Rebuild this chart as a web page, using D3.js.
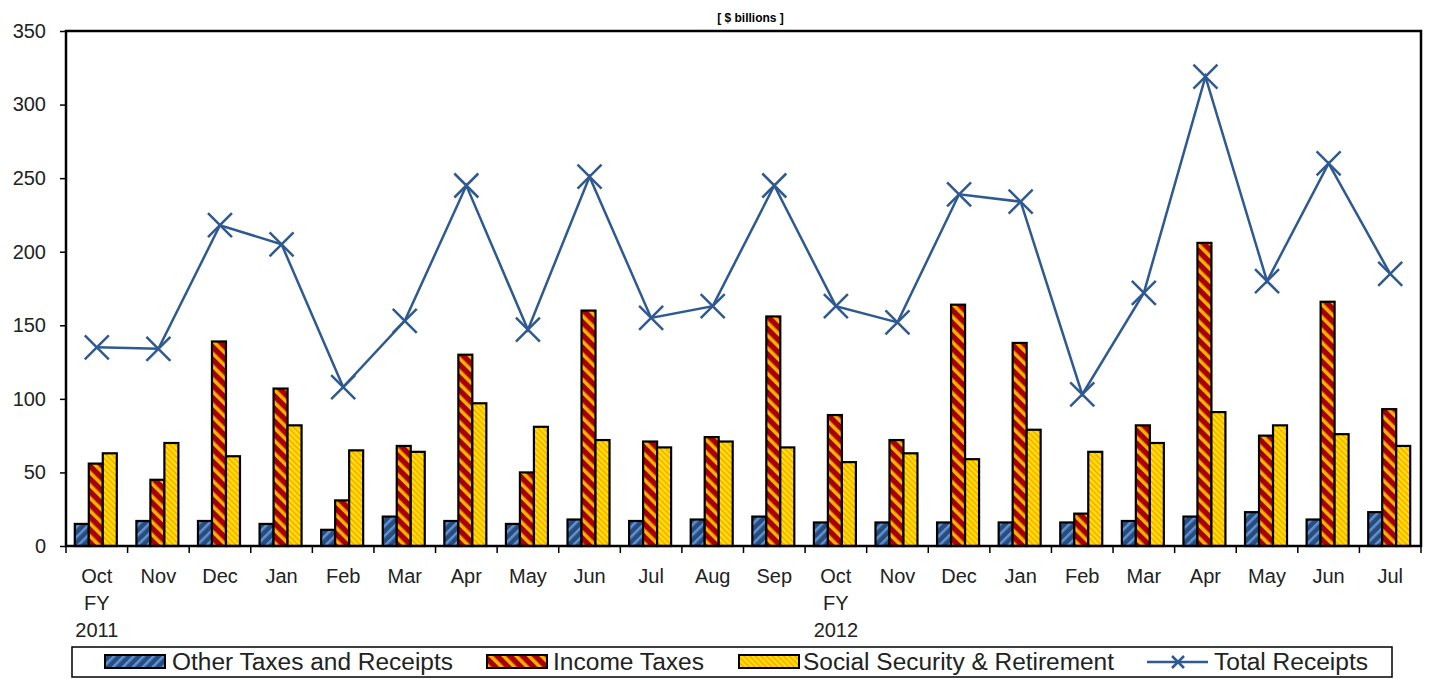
<!DOCTYPE html>
<html>
<head>
<meta charset="utf-8">
<script src="https://cdn.jsdelivr.net/npm/d3@7"></script>
<style>
  body { margin: 0; background: #fff; }
  text { font-family: "Liberation Sans", Arial, sans-serif; fill: #222; }
</style>
</head>
<body>
<div id="main-container"></div>
<script>
// DATA
const months = ["Oct","Nov","Dec","Jan","Feb","Mar","Apr","May","Jun","Jul","Aug","Sep",
                "Oct","Nov","Dec","Jan","Feb","Mar","Apr","May","Jun","Jul"];
const fyLabels = {0: ["FY", "2011"], 12: ["FY", "2012"]};
const otherTaxes = [15,17,17,15,11,20,17,15,18,17,18,20,16,16,16,16,16,17,20,23,18,23];
const incomeTaxes = [56,45,139,107,31,68,130,50,160,71,74,156,89,72,164,138,22,82,206,75,166,93];
const socialSecurity = [63,70,61,82,65,64,97,81,72,67,71,67,57,63,59,79,64,70,91,82,76,68];
const totalReceipts = [135,134,218,205,108,153,245,147,251,155,163,245,163,152,239,234,103,172,319,180,260,185];
const yTicks = [0,50,100,150,200,250,300,350];
const seriesNames = ["Other Taxes and Receipts","Income Taxes","Social Security & Retirement","Total Receipts"];

// CONSTANTS
const W = 1429, H = 679;
const margin = {top: 31, right: 8, bottom: 133, left: 66};
const width = W - margin.left - margin.right,
      height = H - margin.top - margin.bottom;
const lineColour = "#2E5A91";

const svg = d3.select("#main-container")
    .append("svg")
        .attr("width", W)
        .attr("height", H);

// hatch patterns
const defs = svg.append("defs");
function hatch(id, base, stripe, size, sw, dir) {
    const p = defs.append("pattern")
        .attr("id", id)
        .attr("patternUnits", "userSpaceOnUse")
        .attr("width", size).attr("height", size)
        .attr("patternTransform", `rotate(${dir})`);
    p.append("rect").attr("width", size).attr("height", size).attr("fill", base);
    p.append("rect").attr("x", 0).attr("width", sw).attr("height", size).attr("fill", stripe);
}
hatch("pat-other", "#2A4C7C", "#5E93D6", 7, 2.5, 45);
hatch("pat-income", "#A80000", "#FFB300", 9, 3.5, -45);
hatch("pat-ss", "#FFE500", "#FFA000", 4, 1.5, -45);
const fills = ["url(#pat-other)", "url(#pat-income)", "url(#pat-ss)"];

const g = svg.append("g")
    .attr("transform", `translate(${margin.left}, ${margin.top})`);

const idx = months.map((d, i) => i);
const x = d3.scaleBand().domain(idx).range([0, width]).padding(0);
const y = d3.scaleLinear().domain([0, 350]).range([height, 0]);
const barW = 14;
const sub = d3.scaleBand().domain([0,1,2]).range([0, barW * 3]);
const groupOff = (x.bandwidth() - barW * 3) / 2 - 1;

// title
svg.append("text")
    .attr("x", margin.left + width / 2 + 7)
    .attr("y", 22)
    .attr("text-anchor", "middle")
    .style("font-size", "12px")
    .style("font-weight", "bold")
    .style("fill", "#000")
    .text("[ $ billions ]");

// y axis
const yAxis = g.append("g")
    .call(d3.axisLeft(y).tickValues(yTicks).tickSize(6).tickPadding(14));
yAxis.select(".domain").remove();
yAxis.selectAll("line").attr("stroke", "#000").attr("stroke-width", 1.5);
yAxis.selectAll("text").style("font-size", "20px").style("fill", "#222");

// x axis ticks at band boundaries
const boundaries = idx.concat([months.length]);
g.selectAll(".xtick")
    .data(boundaries)
    .enter()
    .append("line")
        .attr("x1", (d) => { return d * x.step(); })
        .attr("x2", (d) => { return d * x.step(); })
        .attr("y1", height)
        .attr("y2", height + 7)
        .attr("stroke", "#000")
        .attr("stroke-width", 1.5);

const xl = g.selectAll(".xlab")
    .data(idx)
    .enter()
    .append("text")
        .attr("text-anchor", "middle")
        .attr("x", (d) => { return x(d) + x.bandwidth() / 2; })
        .attr("y", height + 37)
        .style("font-size", "20px");
xl.append("tspan").text((d) => months[d]);
xl.each(function (d) {
    if (fyLabels[d]) {
        fyLabels[d].forEach((t) => {
            d3.select(this).append("tspan")
                .attr("x", x(d) + x.bandwidth() / 2)
                .attr("dy", 27)
                .text(t);
        });
    }
});

// bars
const series = [otherTaxes, incomeTaxes, socialSecurity];
series.forEach((vals, s) => {
    g.selectAll(".bar" + s)
        .data(vals)
        .enter()
        .append("rect")
            .attr("x", (d, i) => { return x(i) + groupOff + sub(s); })
            .attr("y", (d) => { return y(d); })
            .attr("width", barW)
            .attr("height", (d) => { return height - y(d); })
            .attr("fill", fills[s])
            .attr("stroke", "#000")
            .attr("stroke-width", 2.2);
});

// plot frame
g.append("rect")
    .attr("width", width).attr("height", height)
    .attr("fill", "none")
    .attr("stroke", "#000")
    .attr("stroke-width", 2.5);

// total receipts line
const line = d3.line()
    .x((d, i) => { return x(i) + x.bandwidth() / 2; })
    .y((d) => { return y(d); });
g.append("path")
    .datum(totalReceipts)
    .attr("d", line)
    .attr("fill", "none")
    .attr("stroke", lineColour)
    .attr("stroke-width", 2.5);

const m = 12;
g.selectAll(".mk")
    .data(totalReceipts)
    .enter()
    .append("path")
        .attr("d", (d, i) => {
            const cx = x(i) + x.bandwidth() / 2, cy = y(d);
            return `M${cx - m},${cy - m}L${cx + m},${cy + m}M${cx - m},${cy + m}L${cx + m},${cy - m}`;
        })
        .attr("stroke", lineColour)
        .attr("stroke-width", 2.5)
        .attr("fill", "none");

// legend
const leg = svg.append("g").attr("transform", "translate(72, 647)");
leg.append("rect")
    .attr("width", 1320).attr("height", 30)
    .attr("fill", "#fff").attr("stroke", "#000").attr("stroke-width", 1.5);
const swX = [33, 415, 667, 1106];
const textX = [100, 481, 731, 1142];
const textW = [281, 151, 311, 154];
seriesNames.forEach((name, s) => {
    if (s < 3) {
        leg.append("rect")
            .attr("x", swX[s]).attr("y", 8)
            .attr("width", 60).attr("height", 13)
            .attr("fill", fills[s]).attr("stroke", "#000").attr("stroke-width", 2);
    } else {
        leg.append("line")
            .attr("x1", swX[s] - 31).attr("x2", swX[s] + 30)
            .attr("y1", 15).attr("y2", 15)
            .attr("stroke", lineColour).attr("stroke-width", 2.5);
        leg.append("path")
            .attr("d", `M${swX[s] - 6},9L${swX[s] + 6},21M${swX[s] - 6},21L${swX[s] + 6},9`)
            .attr("stroke", lineColour).attr("stroke-width", 2.5);
    }
    leg.append("text")
        .attr("x", textX[s]).attr("y", 23)
        .attr("textLength", textW[s])
        .attr("lengthAdjust", "spacingAndGlyphs")
        .style("font-size", "23px")
        .text(name);
});
</script>
</body>
</html>
